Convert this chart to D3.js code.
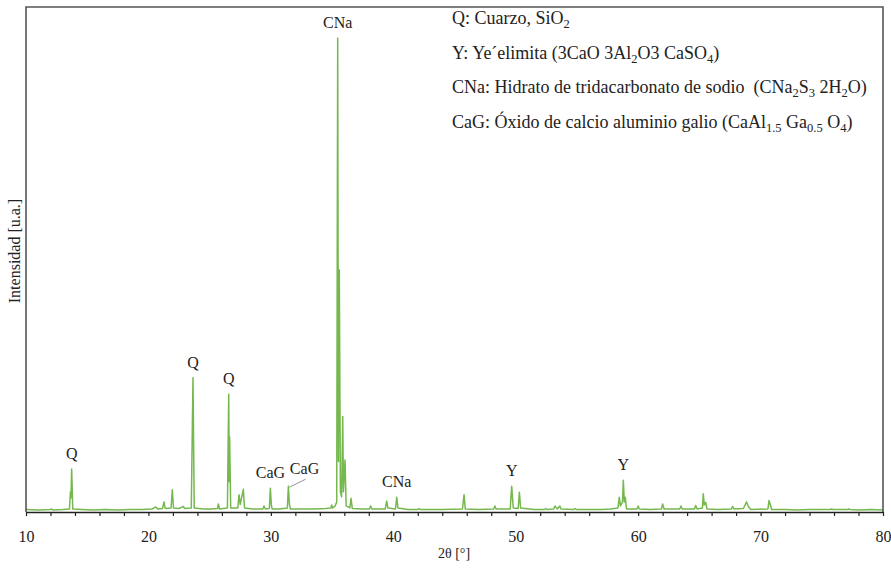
<!DOCTYPE html>
<html>
<head>
<meta charset="utf-8">
<script src="https://cdn.jsdelivr.net/npm/d3@7"></script>
<style>
  html, body { margin: 0; padding: 0; background: #fff; }
  svg { display: block; }
  text { font-family: "Liberation Serif", "Times New Roman", serif; fill: #222; }
</style>
</head>
<body>
<svg id="chart" width="891" height="569"></svg>
<script>
// XRD pattern: [2θ (°), intensity (a.u.)]
const pattern = [
  [10.0, 5], [11.0, 4], [12.0, 5], [12.1, 6], [12.2, 4], [13.0, 5],
  [13.55, 6], [13.63, 40], [13.67, 28], [13.73, 85], [13.82, 6],
  [14.5, 5], [15.5, 4], [16.5, 5], [17.5, 4], [18.5, 5], [19.5, 5],
  [20.3, 6], [20.6, 10], [20.75, 6], [21.15, 7], [21.27, 20], [21.37, 7],
  [21.85, 8], [21.95, 44], [22.05, 8], [22.5, 7], [22.85, 11], [22.95, 7],
  [23.5, 8], [23.64, 266], [23.74, 8], [24.5, 6], [25.2, 6],
  [25.65, 7], [25.71, 16], [25.8, 6],
  [26.45, 8], [26.56, 233], [26.6, 60], [26.63, 149], [26.72, 8],
  [27.3, 8], [27.4, 34], [27.5, 15], [27.75, 45], [27.85, 8],
  [28.5, 6], [29.35, 6], [29.44, 12], [29.55, 6],
  [29.88, 7], [29.96, 47], [30.04, 14], [30.1, 6], [30.7, 6],
  [31.35, 8], [31.43, 51], [31.52, 15], [31.6, 6],
  [32.5, 6], [33.5, 6], [34.5, 7], [34.9, 8], [34.97, 14], [35.05, 8],
  [35.25, 12], [35.38, 20], [35.46, 938], [35.52, 100], [35.59, 479],
  [35.68, 40], [35.78, 30], [35.87, 189], [35.93, 40], [36.06, 103], [36.15, 12],
  [36.45, 8], [36.55, 27], [36.65, 7], [37.5, 6],
  [38.05, 6], [38.15, 12], [38.25, 6], [39.35, 6], [39.46, 22], [39.56, 8],
  [40.18, 6], [40.28, 29], [40.38, 8], [41.2, 5], [42.0, 5], [42.1, 7], [42.2, 5],
  [43.0, 5], [44.0, 5], [45.65, 6], [45.78, 34], [45.88, 6],
  [47.0, 5], [48.2, 6], [48.3, 12], [48.4, 6],
  [49.55, 6], [49.67, 51], [49.75, 24], [49.8, 8], [50.2, 7], [50.3, 39], [50.4, 8],
  [51.5, 5], [52.35, 5], [52.45, 7], [52.55, 5], [53.1, 6], [53.2, 12], [53.4, 6],
  [53.6, 12], [53.7, 6], [54.75, 5], [54.85, 7], [54.95, 5],
  [56.0, 5], [57.0, 5], [57.75, 6], [58.35, 8], [58.46, 29], [58.55, 12],
  [58.72, 20], [58.79, 63], [58.87, 20], [58.95, 29], [59.05, 6],
  [59.9, 6], [60.0, 12], [60.1, 6], [61.0, 5], [61.9, 6], [62.0, 16], [62.12, 6],
  [63.4, 6], [63.5, 12], [63.6, 6], [64.6, 6], [64.7, 13], [64.82, 6],
  [65.25, 8], [65.32, 36], [65.4, 14], [65.52, 19], [65.62, 6],
  [66.5, 5], [67.62, 6], [67.72, 11], [67.82, 6], [68.6, 7], [68.86, 20],
  [69.0, 11], [69.2, 5], [70.6, 6], [70.69, 23], [70.8, 14], [70.9, 5],
  [72.0, 5], [73.0, 4], [74.0, 5], [75.7, 5], [75.8, 6], [75.9, 5],
  [77.1, 5], [77.2, 6], [77.3, 5], [78.0, 4], [79.0, 5], [80.0, 4]
];

// Phase labels placed over the peaks: [text, 2θ, intensity]
const peakLabels = [
  ["Q", 13.73, 85],
  ["Q", 23.64, 266],
  ["Q", 26.56, 233],
  ["CaG", 29.96, 47],
  ["CNa", 35.46, 938],
  ["CNa", 40.28, 29],
  ["Y", 49.67, 51],
  ["Y", 58.79, 63]
];

// Label with a leader line: [text, 2θ of label, intensity of label, 2θ of peak, intensity of peak]
const leaderLabels = [
  ["CaG", 32.75, 51, 31.43, 51]
];

// Phase key, each line split into [text, subscript?] runs
const phaseKey = [
  [["Q: Cuarzo, SiO", false], ["2", true]],
  [["Y: Ye\u00B4elimita (3CaO 3Al", false], ["2", true], ["O3 CaSO", false], ["4", true], [")", false]],
  [["CNa: Hidrato de tridacarbonato de sodio\u00A0\u00A0(CNa", false], ["2", true], ["S", false], ["3", true],
   [" 2H", false], ["2", true], ["O)", false]],
  [["CaG: \u00D3xido de calcio aluminio galio (CaAl", false], ["1.5", true], [" Ga", false], ["0.5", true],
   [" O", false], ["4", true], [")", false]]
];

const xTicks = d3.range(10, 81, 2);
const xTickLabels = [10, 20, 30, 40, 50, 60, 70, 80];
const xTitle = "2\u03B8 [\u00B0]";
const yTitle = "Intensidad [u.a.]";

const svg = d3.select("#chart");
const plotLeft = 26, plotRight = 883, plotTop = 7, plotBottom = 512;

const x = d3.scaleLinear().domain([10, 80]).range([plotLeft, plotRight]);
const y = d3.scaleLinear().domain([0, 1000]).range([plotBottom, plotTop]);

// pattern trace
const line = d3.line().x(d => x(d[0])).y(d => y(d[1]));
svg.append("path")
  .datum(pattern)
  .attr("d", line)
  .attr("fill", "none")
  .attr("stroke", "#74b84e")
  .attr("stroke-width", 1.5)
  .attr("stroke-linejoin", "round");

// frame (left, top, right)
svg.append("path")
  .attr("d", `M${plotLeft},${plotBottom}V${plotTop}H${plotRight}V${plotBottom}`)
  .attr("fill", "none")
  .attr("stroke", "#555")
  .attr("stroke-width", 1.6);

// bottom axis
const xAxis = d3.axisBottom(x)
  .tickValues(xTicks)
  .tickSize(4)
  .tickSizeOuter(0)
  .tickFormat(d => xTickLabels.includes(d) ? d : "");
const gx = svg.append("g")
  .attr("transform", `translate(0,${plotBottom})`)
  .call(xAxis);
gx.select(".domain").attr("stroke", "#222").attr("stroke-width", 1.6);
gx.selectAll(".tick line").attr("stroke", "#222").attr("stroke-width", 1.2);
gx.selectAll(".tick text")
  .attr("y", 19)
  .style("font-family", "'Liberation Serif', 'Times New Roman', serif")
  .style("font-size", "16px")
  .attr("fill", "#222");

// axis titles
svg.append("text")
  .attr("x", 454)
  .attr("y", 558)
  .attr("text-anchor", "middle")
  .style("font-size", "14px")
  .text(xTitle);

svg.append("text")
  .attr("transform", "translate(20,251) rotate(-90)")
  .attr("text-anchor", "middle")
  .style("font-size", "16px")
  .text(yTitle);

// peak labels
svg.selectAll("text.peak")
  .data(peakLabels)
  .join("text")
  .attr("class", "peak")
  .attr("x", d => x(d[1]))
  .attr("y", d => y(d[2]) - 10)
  .attr("text-anchor", "middle")
  .style("font-size", "16px")
  .text(d => d[0]);

leaderLabels.forEach(d => {
  svg.append("text")
    .attr("x", x(d[1]))
    .attr("y", y(d[2]) - 12)
    .attr("text-anchor", "middle")
    .style("font-size", "16px")
    .text(d[0]);
  svg.append("line")
    .attr("x1", x(d[1]) + 1).attr("y1", y(d[2]) - 7)
    .attr("x2", x(d[3]) + 1).attr("y2", y(d[4]) + 1)
    .attr("stroke", "#888")
    .attr("stroke-width", 0.9);
});

// phase key
const key = svg.append("g").attr("transform", "translate(452,0)");
phaseKey.forEach((runs, i) => {
  const t = key.append("text")
    .attr("x", 0)
    .attr("y", 24 + i * 34.5)
    .style("font-size", "18px");
  let sub = false;
  runs.forEach(([txt, isSub]) => {
    const ts = t.append("tspan").text(txt);
    if (isSub) {
      ts.style("font-size", "12.5px").attr("dy", sub ? 0 : 4);
    } else if (sub) {
      ts.attr("dy", -4);
    }
    sub = isSub;
  });
});
</script>
</body>
</html>
